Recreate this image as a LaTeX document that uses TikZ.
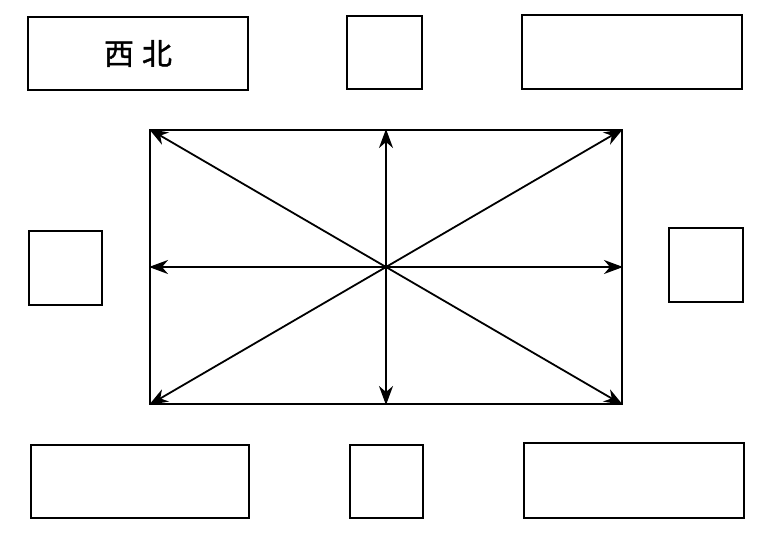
\documentclass[tikz,border=0pt]{standalone}
\usepackage{fontspec}
\newfontfamily\cjk[FakeBold=1.2]{Noto Sans CJK SC}
\usetikzlibrary{arrows.meta}
\begin{document}
\begin{tikzpicture}[x=1pt,y=-1pt,
  box/.style={draw, line width=2pt, inner sep=0pt},
  arr/.style={line width=1.8pt, -{Stealth[length=19pt,width=14pt,inset=6pt]}}]
\useasboundingbox (0,0) rectangle (775,532);
% outer boxes
\node[box, minimum width=220pt, minimum height=73pt] (nw) at (138,53.5) {\cjk\fontsize{30pt}{34pt}\selectfont 西\hspace{8pt}北};
\node[box, minimum width=75pt, minimum height=73pt] (n) at (384.5,52.5) {};
\node[box, minimum width=220pt, minimum height=74pt] (ne) at (632,52) {};
\node[box, minimum width=73pt, minimum height=74pt] (w) at (65.5,268) {};
\node[box, minimum width=74pt, minimum height=74pt] (e) at (706,265) {};
\node[box, minimum width=218pt, minimum height=73pt] (sw) at (140,481.5) {};
\node[box, minimum width=73pt, minimum height=73pt] (s) at (386.5,481.5) {};
\node[box, minimum width=220pt, minimum height=75pt] (se) at (634,480.5) {};
% central rectangle
\node[box, minimum width=472pt, minimum height=274pt] (r) at (386,267) {};
\coordinate (c) at (r.center);
\draw[arr] (c) -- (r.north west);
\draw[arr] (c) -- (r.north east);
\draw[arr] (c) -- (r.south west);
\draw[arr] (c) -- (r.south east);
\draw[arr] (c) -- (r.north);
\draw[arr] (c) -- (r.south);
\draw[arr] (c) -- (r.west);
\draw[arr] (c) -- (r.east);
\end{tikzpicture}
\end{document}
